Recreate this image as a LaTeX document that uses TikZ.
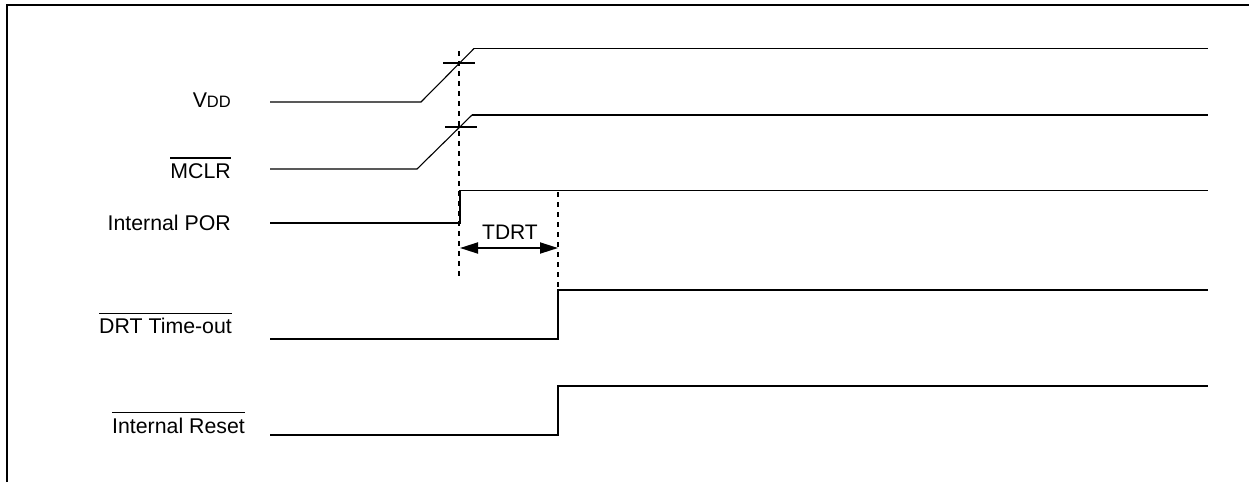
\documentclass[tikz,border=0pt]{standalone}
\usepackage{fontspec}
\setmainfont{Liberation Sans}
\usetikzlibrary{arrows.meta}
\begin{document}
\begin{tikzpicture}[x=1pt,y=-1pt,
  lbl/.style={anchor=base east,inner sep=0pt,font=\fontsize{21.3}{25}\selectfont},
  lowwave/.style={line width=1.1pt,line join=miter},
  wave/.style={line width=1.8pt,line join=miter},
  bar/.style={line width=1.6pt},
  tick/.style={line width=1.6pt},
  marker/.style={line width=1.8pt,dash pattern=on 5pt off 5pt},
  frame/.style={line width=2pt}]
\useasboundingbox (0,0) rectangle (1249,482);
% frame
\draw[frame] (7,482) -- (7,5) -- (1249,5);

% labels
\node[lbl] (vdd) at (231,107) {V\fontsize{16.5}{19}\selectfont DD};
\node[lbl] (mclr) at (231,178) {MCLR};
\draw[bar] ([yshift=5pt]mclr.north west) -- ([yshift=5pt]mclr.north east);
\node[lbl] (por) at (231,230) {Internal POR};
\node[lbl] (drt) at (232,333) {DRT Time-out};
\draw[bar] ([yshift=4pt]drt.north west) -- ([yshift=4pt]drt.north east);
\node[lbl] (rst) at (245,433) {Internal Reset};
\draw[bar] ([yshift=5pt]rst.north west) -- ([yshift=5pt]rst.north east);

% VDD
\draw[lowwave] (270,102) -- (421,102) -- (474,48.5);
\draw[wave] (474,48.5) -- (1208,48.5);
\draw[tick] (443,63) -- (475,63);

% MCLR
\draw[lowwave] (270,169) -- (417,169) -- (472,115);
\draw[wave] (472,115) -- (1208,115);
\draw[tick] (445,127) -- (477,127);

% Internal POR
\draw[wave] (270,223) -- (460,223) -- (460,190.5) -- (1208,190.5);

% DRT Time-out
\draw[wave] (270,339) -- (558,339) -- (558,290) -- (1208,290);

% Internal Reset
\draw[wave] (270,435) -- (558,435) -- (558,386) -- (1208,386);

% dashed markers
\draw[marker] (459,51) -- (459,278);
\draw[marker] (558,192) -- (558,290);

% TDRT
\draw[wave,{Triangle[length=18pt,width=11pt]}-{Triangle[length=18pt,width=11pt]}] (460,248) -- (558,248);
\node[anchor=base,inner sep=0pt,font=\fontsize{21}{25}\selectfont] (tdrt) at (510,239) {TDRT};
\end{tikzpicture}
\end{document}
